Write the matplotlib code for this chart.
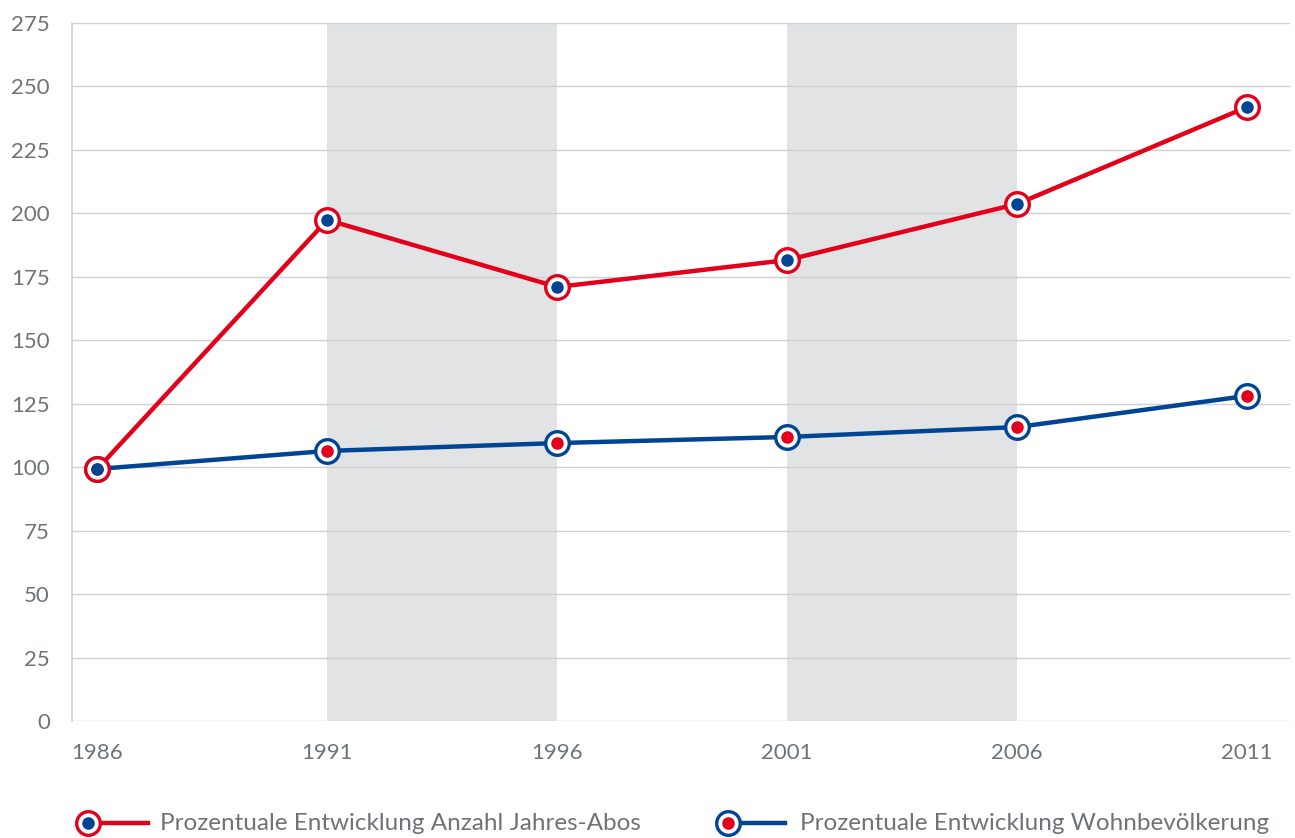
import matplotlib
matplotlib.use("Agg")
import matplotlib.pyplot as plt
from matplotlib.lines import Line2D

plt.rcParams['font.family'] = ['Lato', 'DejaVu Sans']

years = [1986, 1991, 1996, 2001, 2006, 2011]
abos = [99.3, 197.4, 171.0, 181.6, 203.7, 241.9]
bevoelkerung = [99.3, 106.4, 109.5, 111.9, 115.8, 128.1]
yticks = [0, 25, 50, 75, 100, 125, 150, 175, 200, 225, 250, 275]
bands = [(1991, 1996), (2001, 2006)]
labels = ["Prozentuale Entwicklung Anzahl Jahres-Abos",
          "Prozentuale Entwicklung Wohnbevölkerung"]

RED = "#E2001A"
BLUE = "#004494"
TXT = "#6E7378"
GRID = "#CFCFCF"

fig = plt.figure(figsize=(12.95, 8.38), dpi=100)
ax = fig.add_axes([0.0556, 0.1396, 0.9405, 0.833])

for a, b in bands:
    ax.axvspan(a, b, color="#E2E3E5", lw=0, zorder=0)

for v in yticks:
    ax.axhline(v, color=GRID, lw=1, zorder=1)

# lines, then markers (white ring + inner dot of the other colour)
ax.plot(years, bevoelkerung, color=BLUE, lw=3.2, zorder=3, solid_capstyle="round")
ax.plot(years, abos, color=RED, lw=3.2, zorder=4, solid_capstyle="round")
ax.plot(years, bevoelkerung, ls="none", marker="o", ms=17, mfc="white",
        mec=BLUE, mew=2.4, zorder=5)
ax.plot(years, bevoelkerung, ls="none", marker="o", ms=8, mfc=RED,
        mec=RED, zorder=6)
ax.plot(years, abos, ls="none", marker="o", ms=17, mfc="white",
        mec=RED, mew=2.4, zorder=5)
ax.plot(years, abos, ls="none", marker="o", ms=8, mfc=BLUE,
        mec=BLUE, zorder=6)

ax.set_xlim(1985.45, 2011.93)
ax.set_ylim(0, 275)
ax.set_xticks(years)
ax.set_yticks(yticks)
ax.tick_params(length=0, labelsize=16, labelcolor=TXT)
ax.tick_params(axis="y", pad=16)
ax.tick_params(axis="x", pad=16)
for s in ["top", "right", "bottom"]:
    ax.spines[s].set_visible(False)
ax.spines["left"].set_color(GRID)
ax.spines["left"].set_linewidth(1.2)

# legend at the bottom
W, H = 1295.0, 838.0
ly = 1 - 823 / H
legend_items = [(88, 148, 160, RED, BLUE, labels[0]),
                (728, 785, 800, BLUE, RED, labels[1])]
for mx, lx, tx, c_out, c_in, lab in legend_items:
    fig.add_artist(Line2D([mx / W, lx / W], [ly, ly], color=c_out, lw=3.2,
                          transform=fig.transFigure))
    fig.add_artist(Line2D([mx / W], [ly], ls="none", marker="o", ms=17,
                          mfc="white", mec=c_out, mew=2.4,
                          transform=fig.transFigure))
    fig.add_artist(Line2D([mx / W], [ly], ls="none", marker="o", ms=8,
                          mfc=c_in, mec=c_in, transform=fig.transFigure))
    fig.text(tx / W, ly, lab, color=TXT, fontsize=17.5, va="center", ha="left")

fig.savefig("out.png", dpi=100)
